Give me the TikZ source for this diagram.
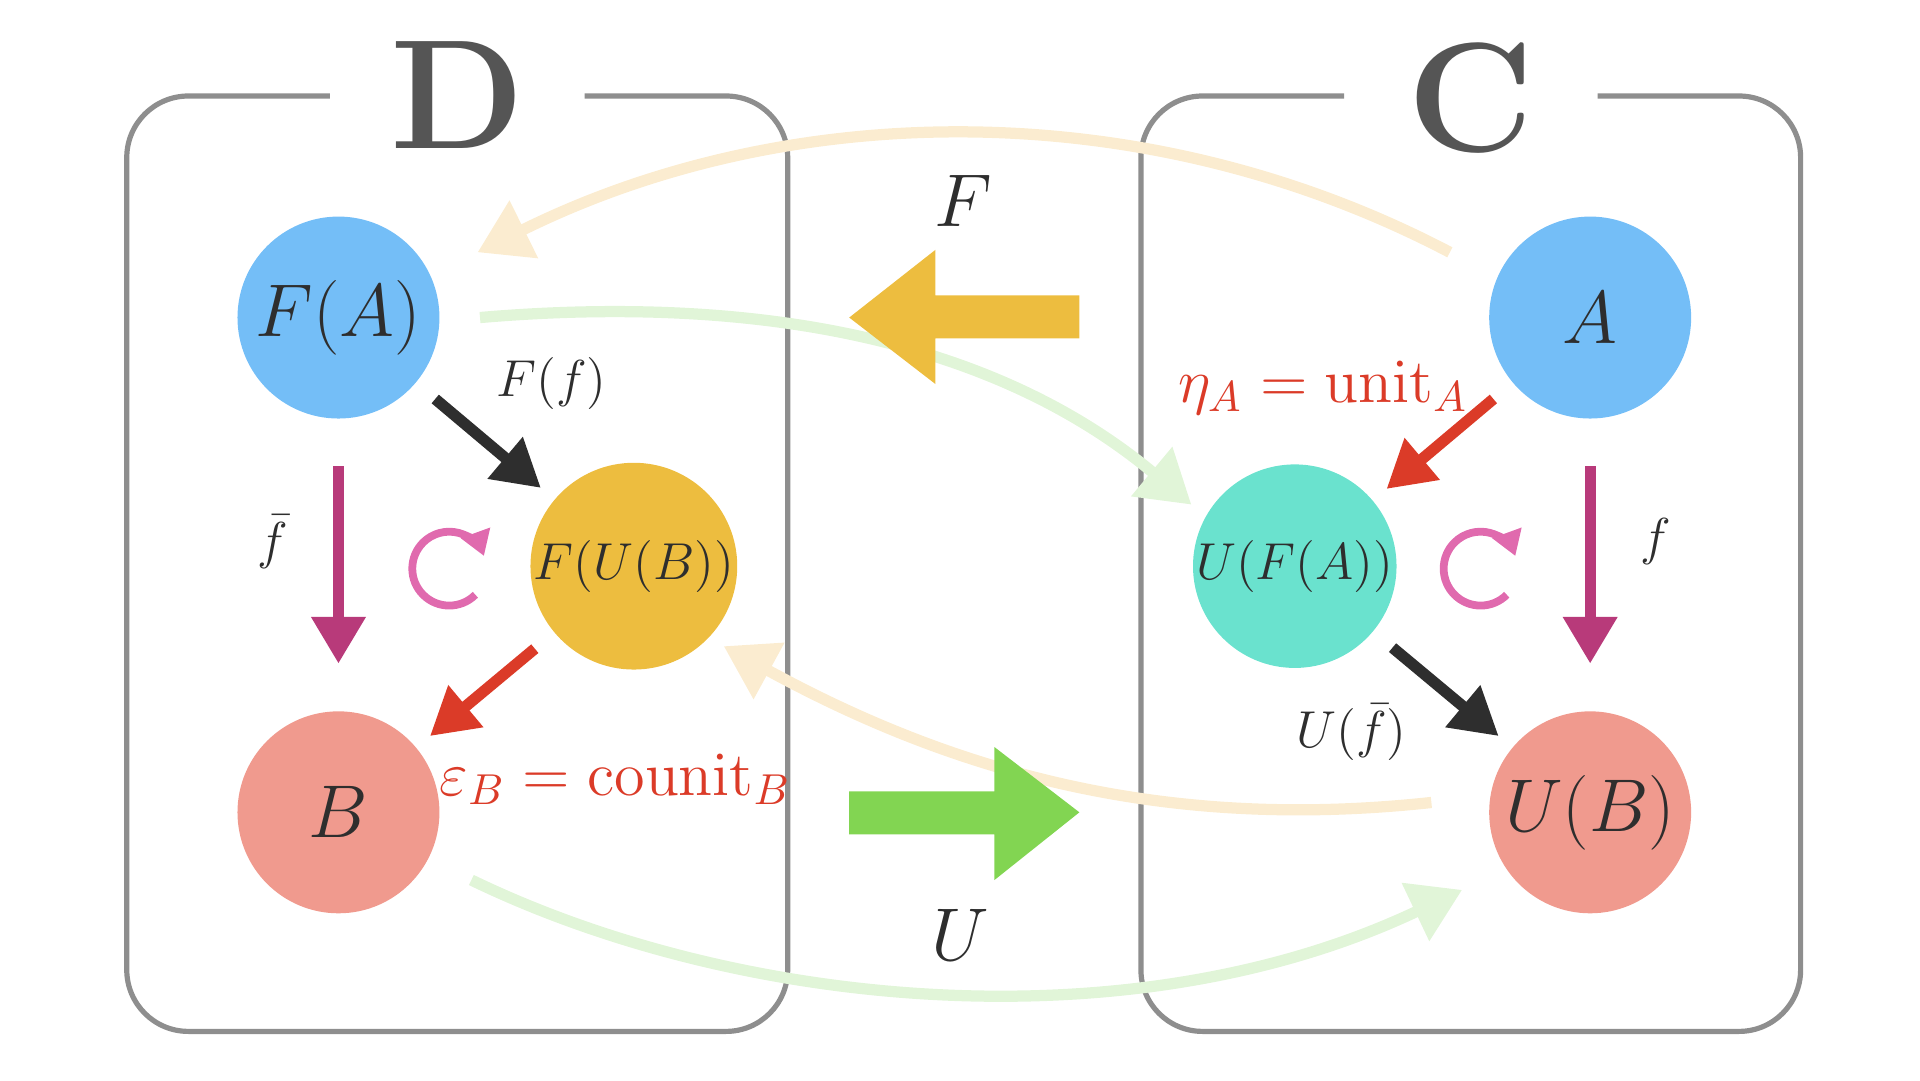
\documentclass[tikz,border=0pt]{standalone}
\usetikzlibrary{arrows.meta}
\definecolor{boxgray}{HTML}{8E8E8E}
\definecolor{lblgray}{HTML}{555555}
\definecolor{cblue}{HTML}{74BEF7}
\definecolor{cyel}{HTML}{EDBD3F}
\definecolor{csal}{HTML}{F09A8E}
\definecolor{cteal}{HTML}{6AE2CE}
\definecolor{cmag}{HTML}{B83A7A}
\definecolor{cred}{HTML}{DB3B28}
\definecolor{cpink}{HTML}{E06AAE}
\definecolor{cgreen}{HTML}{82D552}
\definecolor{fyel}{HTML}{FBECD0}
\definecolor{fgreen}{HTML}{E1F5D8}
\definecolor{ink}{HTML}{2E2E2E}
\begin{document}
\begin{tikzpicture}[x=0.01cm,y=-0.01cm,
  obj/.style={circle,minimum size=1.64cm,inner sep=0pt,text=ink},
  box/.style={draw=boxgray,line width=1.2pt,rounded corners=0.5cm},
  mor/.style={line width=2.6pt,-{Triangle[length=0.38cm,width=0.42cm]},shorten <=0.2cm,shorten >=0.14cm},
  faint/.style={line width=2.6pt,-{Triangle[length=0.42cm,width=0.5cm]}},
  lbl/.style={font=\fontsize{13}{13}\selectfont,text=ink},
  inn/.style={font=\fontsize{16.5}{16.5}\selectfont},
  big/.style={font=\fontsize{19}{19}\selectfont,text=ink},
  cyc/.style={draw=cpink,line width=1.8pt,-{Triangle[length=0.2cm,width=0.24cm]}}]
\useasboundingbox (0,0) rectangle (1560,878);
% boxes
\draw[box] (268,78) -- (103,78) -- (103,838) -- (640,838) -- (640,78) -- (475,78);
\draw[box] (1092,78) -- (927,78) -- (927,838) -- (1463,838) -- (1463,78) -- (1298,78);
\node[text=lblgray,font=\fontsize{36}{36}\selectfont\bfseries] (D) at (372,77) {D};
\node[text=lblgray,font=\fontsize{36}{36}\selectfont\bfseries] (C) at (1195,80) {C};
% faint curves
\coordinate (s1) at (1178,205); \coordinate (t1) at (388,205);
\coordinate (s2) at (390,258); \coordinate (t2) at (968,410);
\coordinate (s3) at (1163,652); \coordinate (t3) at (588,525);
\coordinate (s4) at (383,715); \coordinate (t4) at (1188,723);
\draw[faint,draw=fyel] (s1) .. controls (930,75) and (640,80) .. (t1);
\draw[faint,draw=fgreen] (s2) .. controls (600,240) and (800,270) .. (t2);
\draw[faint,draw=fyel] (s3) .. controls (950,675) and (780,630) .. (t3);
\draw[faint,draw=fgreen] (s4) .. controls (600,820) and (920,850) .. (t4);
% nodes
\node[obj,fill=cblue,inn] (FA) at (275,258) {$F(A)$};
\node[obj,fill=cyel,font=\fontsize{11.5}{11.5}\selectfont] (FUB) at (515,460) {$F(U(B))$};
\node[obj,fill=csal,inn] (B) at (275,660) {$B$};
\node[obj,fill=cblue,inn] (A) at (1292,258) {$A$};
\node[obj,fill=cteal,font=\fontsize{11.5}{11.5}\selectfont] (UFA) at (1052,460) {$U(F(A))$};
\node[obj,fill=csal,inn] (UB) at (1292,660) {$U(B)$};
% morphisms
\draw[mor,draw=ink] (FA) -- (FUB);
\draw[mor,draw=cmag,shorten <=0.38cm,shorten >=0.38cm] (FA) -- (B);
\draw[mor,draw=cred] (FUB) -- (B);
\draw[mor,draw=cred] (A) -- (UFA);
\draw[mor,draw=cmag,shorten <=0.38cm,shorten >=0.38cm] (A) -- (UB);
\draw[mor,draw=ink] (UFA) -- (UB);
% labels
\node[lbl] (lFf) at (448,312) {$F(f)$};
\node[lbl] (lfb) at (222,440) {$\bar f$};
\node[lbl,text=cred,font=\fontsize{14}{14}\selectfont] (leps) at (500,633) {$\varepsilon_B=\mathrm{counit}_B$};
\node[lbl,text=cred,font=\fontsize{14}{14}\selectfont] (leta) at (1075,315) {$\eta_A=\mathrm{unit}_A$};
\node[lbl] (lf) at (1345,440) {$f$};
\node[lbl] (lUf) at (1098,595) {$U(\bar f)$};
% cycles
\draw[cyc] (365,462) ++(-45:0.3cm) arc[start angle=-45,end angle=-340,radius=0.3cm];
\draw[cyc] (1203,462) ++(-45:0.3cm) arc[start angle=-45,end angle=-340,radius=0.3cm];
% functor arrows
\fill[cyel] (690,258) -- (760,203) -- (760,240) -- (877,240) -- (877,275) -- (760,275) -- (760,312) -- cycle;
\fill[cgreen] (877,660) -- (808,607) -- (808,643) -- (690,643) -- (690,678) -- (808,678) -- (808,715) -- cycle;
\node[big] (lF) at (783,163) {$F$};
\node[big] (lU) at (780,760) {$U$};
\end{tikzpicture}
\end{document}
